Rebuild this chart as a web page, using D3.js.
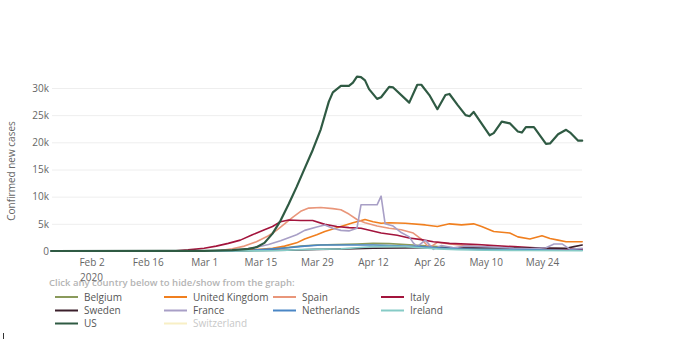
<!DOCTYPE html>
<html><head><meta charset="utf-8">
<script src="https://cdn.jsdelivr.net/npm/d3@7"></script>
<style>
html,body{margin:0;padding:0;background:#fff;}
svg{display:block;font-family:"Open Sans",sans-serif;}
</style></head>
<body>
<svg id="chart" width="675" height="339"></svg>
<script>
// ---------- data ----------
const countries = ["Belgium","United Kingdom","Spain","Italy","Sweden","France","Netherlands","Ireland","US","Switzerland"];
const hiddenCountries = ["Switzerland"];
const xTickLabels = ["Feb 2","Feb 16","Mar 1","Mar 15","Mar 29","Apr 12","Apr 26","May 10","May 24"];
const xTickDates = ["2020-02-02","2020-02-16","2020-03-01","2020-03-15","2020-03-29","2020-04-12","2020-04-26","2020-05-10","2020-05-24"];
const yTickValues = [0,5000,10000,15000,20000,25000,30000];
const yTickLabels = ["0","5k","10k","15k","20k","25k","30k"];
const dateRange = ["2020-01-23","2020-06-03"];

const belgium = [["2020-01-23",0],["2020-03-08",5],["2020-03-12",60],["2020-03-16",200],["2020-03-20",500],["2020-03-25",900],["2020-03-29",1100],["2020-04-03",1200],["2020-04-08",1300],["2020-04-12",1400],["2020-04-16",1350],["2020-04-20",1200],["2020-04-24",1000],["2020-04-28",800],["2020-05-02",600],["2020-05-08",420],["2020-05-15",300],["2020-05-22",250],["2020-05-30",200],["2020-06-03",150]];
const unitedKingdom = [["2020-01-23",0],["2020-03-05",10],["2020-03-10",60],["2020-03-14",250],["2020-03-18",500],["2020-03-21",900],["2020-03-24",1500],["2020-03-26",2200],["2020-03-29",3000],["2020-03-31",3600],["2020-04-04",4500],["2020-04-07",5200],["2020-04-10",5800],["2020-04-12",5400],["2020-04-14",5100],["2020-04-16",5200],["2020-04-20",5100],["2020-04-25",4800],["2020-04-28",4500],["2020-05-01",5000],["2020-05-04",4800],["2020-05-07",5000],["2020-05-09",4500],["2020-05-12",3600],["2020-05-16",3300],["2020-05-18",2600],["2020-05-21",2200],["2020-05-24",2800],["2020-05-26",2300],["2020-05-28",2000],["2020-05-30",1700],["2020-06-03",1700]];
const spain = [["2020-01-23",0],["2020-03-01",10],["2020-03-05",100],["2020-03-08",400],["2020-03-11",900],["2020-03-14",1700],["2020-03-17",2800],["2020-03-19",3800],["2020-03-21",5000],["2020-03-23",6200],["2020-03-25",7300],["2020-03-27",7900],["2020-03-30",8000],["2020-04-02",7800],["2020-04-04",7600],["2020-04-06",6800],["2020-04-08",5800],["2020-04-10",5200],["2020-04-13",4600],["2020-04-16",4200],["2020-04-19",3900],["2020-04-22",3300],["2020-04-24",2200],["2020-04-26",600],["2020-04-28",1600],["2020-05-01",1300],["2020-05-05",1000],["2020-05-10",800],["2020-05-15",600],["2020-05-20",500],["2020-05-25",300],["2020-05-30",300],["2020-06-03",300]];
const italy = [["2020-01-23",0],["2020-02-20",0],["2020-02-23",50],["2020-02-26",200],["2020-03-01",500],["2020-03-04",900],["2020-03-07",1400],["2020-03-10",2000],["2020-03-13",3000],["2020-03-16",3900],["2020-03-18",4500],["2020-03-20",5400],["2020-03-22",5700],["2020-03-25",5600],["2020-03-28",5600],["2020-03-31",4900],["2020-04-03",4500],["2020-04-06",4300],["2020-04-09",4200],["2020-04-14",3300],["2020-04-18",2900],["2020-04-21",2400],["2020-04-24",2100],["2020-04-27",1700],["2020-05-01",1400],["2020-05-08",1200],["2020-05-13",950],["2020-05-17",800],["2020-05-21",650],["2020-05-25",500],["2020-05-30",400],["2020-06-03",350]];
const sweden = [["2020-01-23",0],["2020-03-01",5],["2020-03-10",50],["2020-03-15",100],["2020-03-22",150],["2020-03-29",300],["2020-04-05",400],["2020-04-12",500],["2020-04-19",550],["2020-04-26",600],["2020-05-03",600],["2020-05-10",600],["2020-05-17",550],["2020-05-24",550],["2020-05-30",500],["2020-06-01",800],["2020-06-03",1100]];
const france = [["2020-01-23",0],["2020-02-28",10],["2020-03-04",50],["2020-03-08",150],["2020-03-11",300],["2020-03-14",700],["2020-03-17",1200],["2020-03-20",1900],["2020-03-24",3000],["2020-03-26",3800],["2020-03-29",4400],["2020-03-31",4800],["2020-04-02",4200],["2020-04-04",3800],["2020-04-06",3700],["2020-04-08",4200],["2020-04-09",8500],["2020-04-13",8500],["2020-04-14",10100],["2020-04-15",5000],["2020-04-17",4600],["2020-04-19",3400],["2020-04-21",2600],["2020-04-22",1500],["2020-04-23",800],["2020-04-25",2000],["2020-04-27",300],["2020-04-29",1000],["2020-05-02",600],["2020-05-05",900],["2020-05-09",800],["2020-05-13",700],["2020-05-17",500],["2020-05-21",400],["2020-05-25",600],["2020-05-27",1300],["2020-05-29",1300],["2020-05-31",300],["2020-06-03",500]];
const netherlands = [["2020-01-23",0],["2020-03-08",20],["2020-03-13",150],["2020-03-18",400],["2020-03-22",600],["2020-03-26",900],["2020-03-30",1100],["2020-04-03",1100],["2020-04-08",1100],["2020-04-12",1100],["2020-04-16",1000],["2020-04-20",900],["2020-04-24",800],["2020-04-28",600],["2020-05-03",400],["2020-05-08",300],["2020-05-15",250],["2020-05-22",200],["2020-05-30",150],["2020-06-03",150]];
const ireland = [["2020-01-23",0],["2020-03-14",20],["2020-03-20",100],["2020-03-25",250],["2020-03-30",350],["2020-04-04",400],["2020-04-08",600],["2020-04-12",800],["2020-04-16",850],["2020-04-20",800],["2020-04-24",600],["2020-04-28",400],["2020-05-03",250],["2020-05-10",150],["2020-05-20",80],["2020-06-03",50]];
const us = [["2020-01-23",0],["2020-02-20",10],["2020-03-01",40],["2020-03-08",150],["2020-03-12",400],["2020-03-14",700],["2020-03-16",1500],["2020-03-18",3200],["2020-03-20",5600],["2020-03-22",8600],["2020-03-24",11800],["2020-03-26",15200],["2020-03-28",18600],["2020-03-30",22400],["2020-04-01",27500],["2020-04-02",29200],["2020-04-04",30400],["2020-04-06",30400],["2020-04-07",31000],["2020-04-08",32100],["2020-04-09",32000],["2020-04-10",31400],["2020-04-11",29800],["2020-04-13",28000],["2020-04-14",28300],["2020-04-16",30200],["2020-04-17",30100],["2020-04-21",27300],["2020-04-23",30600],["2020-04-24",30600],["2020-04-26",28700],["2020-04-28",26100],["2020-04-30",28700],["2020-05-01",28900],["2020-05-03",26900],["2020-05-05",25000],["2020-05-06",24800],["2020-05-07",25600],["2020-05-11",21300],["2020-05-12",21700],["2020-05-14",23800],["2020-05-16",23500],["2020-05-18",22000],["2020-05-19",21800],["2020-05-20",22800],["2020-05-22",22800],["2020-05-25",19700],["2020-05-26",19800],["2020-05-28",21500],["2020-05-30",22300],["2020-05-31",21800],["2020-06-02",20300],["2020-06-03",20300]];
const switzerland = [];

const seriesData = [belgium, unitedKingdom, spain, italy, sweden, france, netherlands, ireland, us, switzerland];

// ---------- styles ----------
const colors = ["#8a9a5b","#f07f1f","#e9967a","#a3143c","#3b1f2b","#a89fc6","#4a86c5","#86cbc6","#2f5a43","#f5e6a0"];
const widths = [1.6,1.6,1.6,1.6,1.6,1.6,1.6,1.6,2.2,1.6];

const parse = d3.timeParse("%Y-%m-%d");
const svg = d3.select("#chart");

const x = d3.scaleTime().domain(dateRange.map(parse)).range([51.3, 582.2]);
const y = d3.scaleLinear().domain([0, 30000]).range([251, 88]);

// gridlines
svg.append("g").selectAll("line").data(yTickValues.filter(v => v > 0)).join("line")
  .attr("x1", 52).attr("x2", 582)
  .attr("y1", d => y(d) + 0.5).attr("y2", d => y(d) + 0.5)
  .attr("stroke", "#eeeeee").attr("stroke-width", 1);

// y axis
const yAxis = d3.axisLeft(y).tickValues(yTickValues)
  .tickFormat((d, i) => yTickLabels[i]).tickSize(0).tickPadding(0);
const gy = svg.append("g").attr("transform", "translate(49,0)").call(yAxis);
gy.select(".domain").remove();
gy.selectAll("text").attr("fill", "#666").style("font-size", "10px").style("font-family", "'Open Sans',sans-serif");
svg.append("line").attr("x1", 50).attr("x2", 56).attr("y1", y(0)).attr("y2", y(0))
  .attr("stroke", "#444").attr("stroke-width", 1);

// x axis
const xAxis = d3.axisBottom(x).tickValues(xTickDates.map(parse))
  .tickFormat((d, i) => xTickLabels[i]).tickSize(0).tickPadding(0);
const gx = svg.append("g").attr("transform", "translate(0,259)").call(xAxis);
gx.select(".domain").remove();
gx.selectAll("text").attr("fill", "#666").style("font-size", "10px").style("font-family", "'Open Sans',sans-serif");

svg.append("text").attr("x", 91.5).attr("y", 281).attr("text-anchor", "middle")
  .attr("fill", "#666").style("font-size", "10px").text("2020");

// y title
svg.append("text").attr("transform", "translate(15,171) rotate(-90)")
  .attr("text-anchor", "middle").attr("fill", "#666")
  .style("font-size", "10px").style("font-family", "'Open Sans',sans-serif")
  .text("Confirmed new cases");

// lines
const line = d3.line().x(d => x(parse(d[0]))).y(d => y(d[1])).curve(d3.curveLinear);
const plot = svg.append("g");
countries.forEach((c, i) => {
  if (hiddenCountries.includes(c) || seriesData[i].length === 0) return;
  plot.append("path").datum(seriesData[i])
    .attr("d", line).attr("fill", "none")
    .attr("stroke", colors[i]).attr("stroke-width", widths[i])
    .attr("stroke-linejoin", "round").attr("stroke-linecap", "round");
});

// legend
svg.append("text").attr("x", 49).attr("y", 286)
  .attr("fill", "#b4b4b4").style("font-size", "9.5px").style("font-weight", "600")
  .text("Click any country below to hide/show from the graph:");

const colX = [55, 164, 273, 381];
const rowY = [297, 310.5, 323.5];
const leg = svg.append("g");
countries.forEach((c, i) => {
  const col = i % 4, row = Math.floor(i / 4);
  const gx0 = colX[col], gy0 = rowY[row];
  const hidden = hiddenCountries.includes(c);
  leg.append("line").attr("x1", gx0).attr("x2", gx0 + 23)
    .attr("y1", gy0).attr("y2", gy0)
    .attr("stroke", colors[i]).attr("stroke-width", 2)
    .attr("opacity", hidden ? 0.6 : 1);
  leg.append("text").attr("x", gx0 + 29).attr("y", gy0 + 3.5)
    .attr("fill", hidden ? "#c8c8c8" : "#555")
    .style("font-size", "10px").text(c);
});

svg.append("line").attr("x1", 3.5).attr("x2", 3.5).attr("y1", 333).attr("y2", 339)
  .attr("stroke", "#333").attr("stroke-width", 1);
</script>
</body></html>
